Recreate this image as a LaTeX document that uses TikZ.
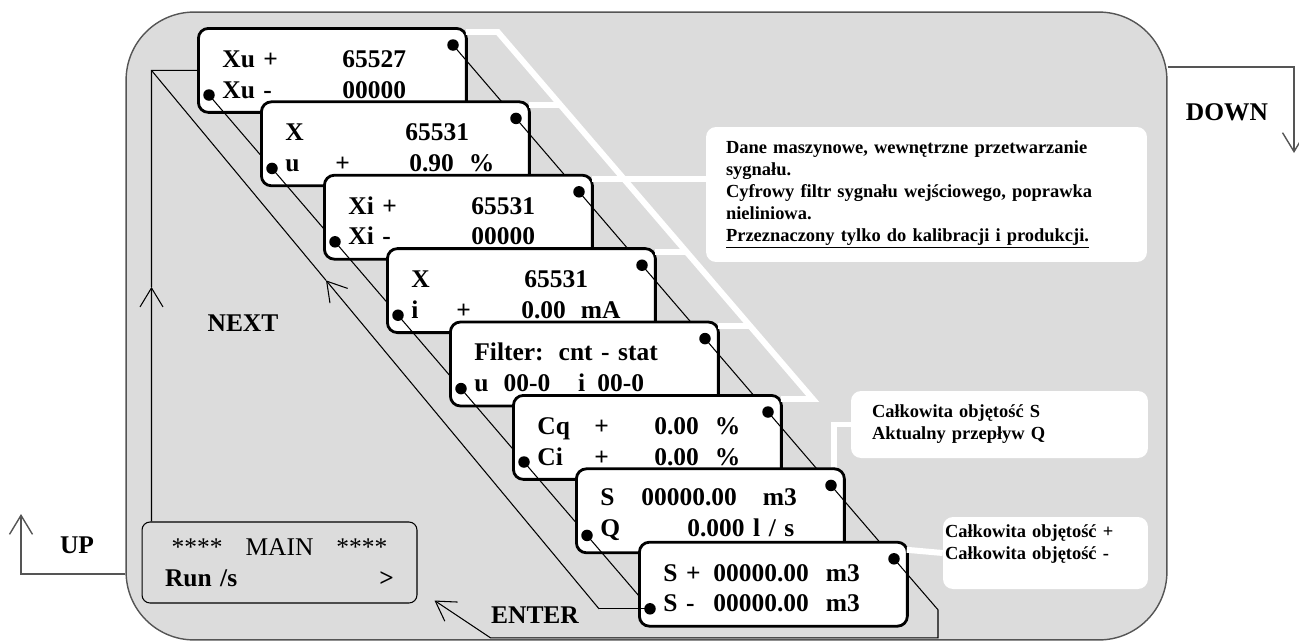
\documentclass[tikz,border=0pt]{standalone}
\usepackage{fontspec}
\setmainfont{Liberation Serif}
\usepackage{xcolor}
\definecolor{panelgray}{HTML}{DCDCDC}
\definecolor{framegray}{HTML}{555555}
\usetikzlibrary{arrows.meta,calc}
\newcommand{\lcdcol}[2]{\makebox[#1][l]{#2}}

\begin{document}
\begin{tikzpicture}[x=0.02cm,y=-0.02cm,>={Straight Barb[length=3.8mm,width=4.6mm]}]
\tikzset{
 panel/.style={draw=framegray,line width=0.8pt,fill=panelgray,rounded corners=1.36cm,minimum width=20.82cm,minimum height=12.56cm,inner sep=0pt},
 screen/.style={draw,line width=1.6pt,fill=white,rounded corners=2mm,anchor=north west,minimum width=5.36cm,minimum height=1.68cm,inner xsep=4.8mm,text width=4.4cm,text height=5mm,align=left,font=\fontsize{14.5}{17.5}\selectfont\bfseries},
 mainbox/.style={draw,line width=0.6pt,rounded corners=1.6mm,minimum width=5.5cm,minimum height=1.62cm,inner xsep=4.6mm,text width=4.58cm,align=left,font=\fontsize{14.5}{17.6}\selectfont},
 note/.style={fill=white,rounded corners=2mm,align=left,font=\fontsize{10.5}{12.5}\selectfont\bfseries},
 key/.style={font=\fontsize{14.5}{17}\selectfont\bfseries},
 dot/.style={circle,fill,inner sep=0pt,minimum size=2.3mm},
 flow/.style={line width=0.6pt},
 lead/.style={white,line width=3.4pt},
 nav/.style={->,framegray,line width=0.8pt}
}
\useasboundingbox (0,0) rectangle (1299,643);
\node[panel] (panel) at (646.5,326) {};

% UP / DOWN
\coordinate (upc) at (21,574);
\coordinate (uptip) at (21,514);
\draw[nav] (panel.west |- upc) -- (upc) -- (uptip);
\coordinate (dnc) at (1294,67);
\coordinate (dntip) at (1294,153);
\draw[nav] (panel.east |- dnc) -- (dnc) -- (dntip);
\node[key] (up) at (77,545) {UP};
\node[key] (down) at (1227,112) {DOWN};

% notes
\node[note,minimum height=2.7cm,inner xsep=4mm,text width=8.02cm] (cal1) at (926.5,194.5)
 {Dane maszynowe, wewnętrzne przetwarzanie\\sygnału.\\Cyfrowy filtr sygnału wejściowego, poprawka\\nieliniowa.\\\underline{Przeznaczony tylko do kalibracji i produkcji.}};
\node[note,minimum height=1.34cm,inner xsep=4.2mm,text width=5.1cm] (cal2) at (999.5,424.5)
 {Całkowita objętość S\\Aktualny przepływ Q};
\node[note,minimum height=1.44cm,inner xsep=0.4mm,text width=4.02cm] (cal3) at (1045.5,553)
 {Całkowita objętość +\\Całkowita objętość -\\\mbox{}};

% main screen
\node[mainbox] (main) at (279.5,562.5)
 {\makebox[\linewidth]{****\hspace{4.6mm}MAIN\hspace{4.6mm}****}\\\textbf{Run /s}\hfill\textbf{>}};
\node[key] (next) at (243,323) {NEXT};
\node[key] (enter) at (535,615) {ENTER};
\coordinate (nxt) at ($(main.north west)+(10,0)$);

% screen corners and dots
\coordinate (c1) at (197,27);
\coordinate (c2) at ($(c1)+(63,73.4)$);
\coordinate (c3) at ($(c2)+(63,73.4)$);
\coordinate (c4) at ($(c3)+(63,73.4)$);
\coordinate (c5) at ($(c4)+(63,73.4)$);
\coordinate (c6) at ($(c5)+(63,73.4)$);
\coordinate (c7) at ($(c6)+(63,73.4)$);
\coordinate (c8) at ($(c7)+(63,73.4)$);
\foreach \i in {1,...,8}{
 \coordinate (t\i) at ($(c\i)+(256,18)$);
 \coordinate (b\i) at ($(c\i)+(12,68)$);
}

% screens, top to bottom
\node[screen] (s1) at (c1) {\lcdcol{2.4cm}{Xu +}65527\\\lcdcol{2.4cm}{Xu -}00000};
\coordinate (nxc) at (nxt |- s1.west);
\draw[flow] (t1) -- (t2) (b1) -- (b2);
\node[screen] (s2) at (c2) {\lcdcol{2.4cm}{X}65531\\\lcdcol{1cm}{u}\lcdcol{1.48cm}{+}0.90\hspace{3mm}\%};
\draw[flow] (t2) -- (t3) (b2) -- (b3);
\node[screen] (s3) at (c3) {\lcdcol{2.46cm}{Xi +}65531\\\lcdcol{2.46cm}{Xi -}00000};
\draw[flow] (t3) -- (t4) (b3) -- (b4);
\node[screen] (s4) at (c4) {\lcdcol{2.26cm}{X}65531\\\lcdcol{0.9cm}{i}\lcdcol{1.3cm}{+}0.00\hspace{3mm}mA};
\draw[flow] (t4) -- (t5) (b4) -- (b5);
\node[screen] (s5) at (c5) {Filter:\hspace{3mm}cnt - stat\\u\hspace{3mm}00-0\hspace{5.6mm}i\hspace{2.4mm}00-0};
\draw[flow] (t5) -- (t6) (b5) -- (b6);
\node[screen] (s6) at (c6) {\lcdcol{1.14cm}{Cq}\lcdcol{1.2cm}{+}0.00\hspace{3.2mm}\%\\\lcdcol{1.14cm}{Ci}\lcdcol{1.2cm}{+}0.00\hspace{3.2mm}\%};
\draw[flow] (t6) -- (t7) (b6) -- (b7);
\node[screen] (s7) at (c7) {\lcdcol{0.82cm}{S}00000.00\hspace{5.2mm}m3\\\lcdcol{1.74cm}{Q}0.000\hspace{1.7mm}l / s};
\draw[flow] (t7) -- (t8) (b7) -- (b8);
\node[screen] (s8) at (c8) {\lcdcol{1cm}{S +}00000.00\hspace{3.4mm}m3\\\lcdcol{1cm}{S -}00000.00\hspace{3.4mm}m3};

% ENTER and NEXT paths
\coordinate (ent1) at ($(t8)+(44,51)$);
\coordinate (ent2) at ($(ent1)+(0,28)$);
\coordinate (ent4) at ($(main.south east)+(17,-3)$);
\coordinate (ent3) at ($(ent2 -| ent4)+(56,0)$);
\draw[flow,->] (t8) -- (ent1) -- (ent2) -- (ent3) -- (ent4);
\coordinate (ret) at ($(b8)+(-51,0)$);
\coordinate (retmid) at ($(ret)!0.61!(nxc)$);
\coordinate (nxtmid) at ($(nxt)!0.52!(nxc)$);
\draw[flow] (b8) -- (ret);
\draw[flow,->] (ret) -- (retmid);
\draw[flow] (retmid) -- (nxc);
\draw[flow,->] (nxt) -- (nxtmid);
\draw[flow] (nxtmid) -- (nxc) -- (s1.west);

% white leads to the notes
\draw[lead] ($(s1.north east)+(-2,5)$) -- ++(32,0) -- ($(s6.north east)+(30,5)$) -- ($(s6.north east)+(-2,5)$);
\draw[lead] ($(s2.north east)+(-2,5)$) -- ++(32,0);
\draw[lead] ($(s4.north east)+(-2,5)$) -- ++(32,0);
\draw[lead] ($(s5.north east)+(-2,5)$) -- ++(32,0);
\coordinate (k3) at ($(s3.north east)+(-2,5)$);
\draw[lead] (k3) -- (k3 -| cal1.west);
\draw[lead] ($(s7.north east)+(-12,0)$) |- (cal2.west);
\draw[lead] ($(s8.north east)+(-2,9)$) -- (cal3.west);

% dots
\foreach \i in {1,...,8}{
 \node[dot] (dt\i) at (t\i) {};
 \node[dot] (db\i) at (b\i) {};
}
\end{tikzpicture}
\end{document}
